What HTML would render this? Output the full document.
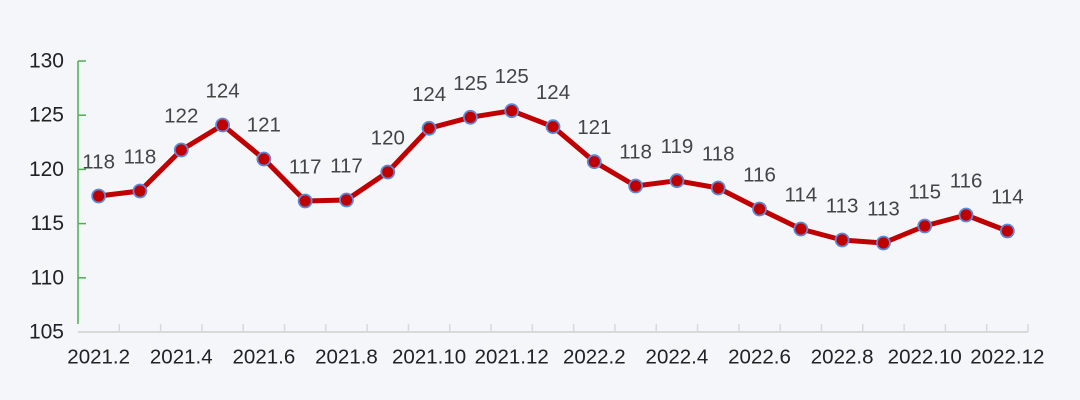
<!DOCTYPE html>
<html><head><meta charset="utf-8"><style>
html,body{margin:0;padding:0;background:#f5f6fa;}
svg{display:block;}
text{font-family:"Liberation Sans","DejaVu Sans",sans-serif;}
</style></head><body>
<svg width="1080" height="400" viewBox="0 0 1080 400" xmlns="http://www.w3.org/2000/svg">
<rect width="1080" height="400" fill="#f5f6fa"/>
<!-- y axis -->
<line x1="78" y1="61" x2="78" y2="324" stroke="#4caf50" stroke-width="1.5"/>
<g stroke="#4caf50" stroke-width="1.5">
<line x1="78" y1="61" x2="86" y2="61"/>
<line x1="78" y1="115.2" x2="86" y2="115.2"/>
<line x1="78" y1="169.4" x2="86" y2="169.4"/>
<line x1="78" y1="223.6" x2="86" y2="223.6"/>
<line x1="78" y1="277.8" x2="86" y2="277.8"/>
</g>
<g font-size="21" fill="#222" text-anchor="end" dominant-baseline="central">
<text x="64" y="61">130</text>
<text x="64" y="115.2">125</text>
<text x="64" y="169.4">120</text>
<text x="64" y="223.6">115</text>
<text x="64" y="277.8">110</text>
<text x="64" y="332">105</text>
</g>
<!-- x axis -->
<line x1="78" y1="332" x2="1028" y2="332" stroke="#d9d9d9" stroke-width="2"/>
<g stroke="#d9d9d9" stroke-width="1.5" id="xt"></g>
<g font-size="20.5" fill="#222" text-anchor="middle" id="xl"></g>
<polyline id="ln" fill="none" stroke="#c00000" stroke-width="5" stroke-linejoin="round" points=""/>
<g id="mk"></g>
<g id="lb" font-size="20.5" fill="#444" text-anchor="middle" dominant-baseline="central"></g>
</svg>
<script>
var ns="http://www.w3.org/2000/svg";
var sp=950/23;
var ys=[196,191,150,125,159,201,200,172,128.3,117.3,110.7,126.7,161.7,186,180.7,188,209,229,240,243,226,215,231];
var lbl=[118,118,122,124,121,117,117,120,124,125,125,124,121,118,119,118,116,114,113,113,115,116,114];
var xt=document.getElementById('xt'),xl=document.getElementById('xl'),mk=document.getElementById('mk'),lb=document.getElementById('lb');
for(var k=1;k<=23;k++){var x=78+k*sp;var l=document.createElementNS(ns,'line');l.setAttribute('x1',x);l.setAttribute('x2',x);l.setAttribute('y1',324);l.setAttribute('y2',332);xt.appendChild(l);}
var pts=[];
for(var i=0;i<23;i++){
 var x=78+(i+0.5)*sp,y=ys[i];pts.push(x.toFixed(1)+','+y);
 var c=document.createElementNS(ns,'circle');c.setAttribute('cx',x);c.setAttribute('cy',y);c.setAttribute('r',6.5);c.setAttribute('fill','#c00000');c.setAttribute('stroke','#5b8ad8');c.setAttribute('stroke-width','1.8');mk.appendChild(c);
 var t=document.createElementNS(ns,'text');t.setAttribute('x',x);t.setAttribute('y',y-34);t.textContent=lbl[i];lb.appendChild(t);
 if(i%2==0){var name=(i<11?'2021.':'2022.')+(i<11?(i+2):(i-10));var tt=document.createElementNS(ns,'text');tt.setAttribute('x',x);tt.setAttribute('y',357);tt.setAttribute('dominant-baseline','central');tt.textContent=name;xl.appendChild(tt);}
}
document.getElementById('ln').setAttribute('points',pts.join(' '));
</script>
</body></html>
